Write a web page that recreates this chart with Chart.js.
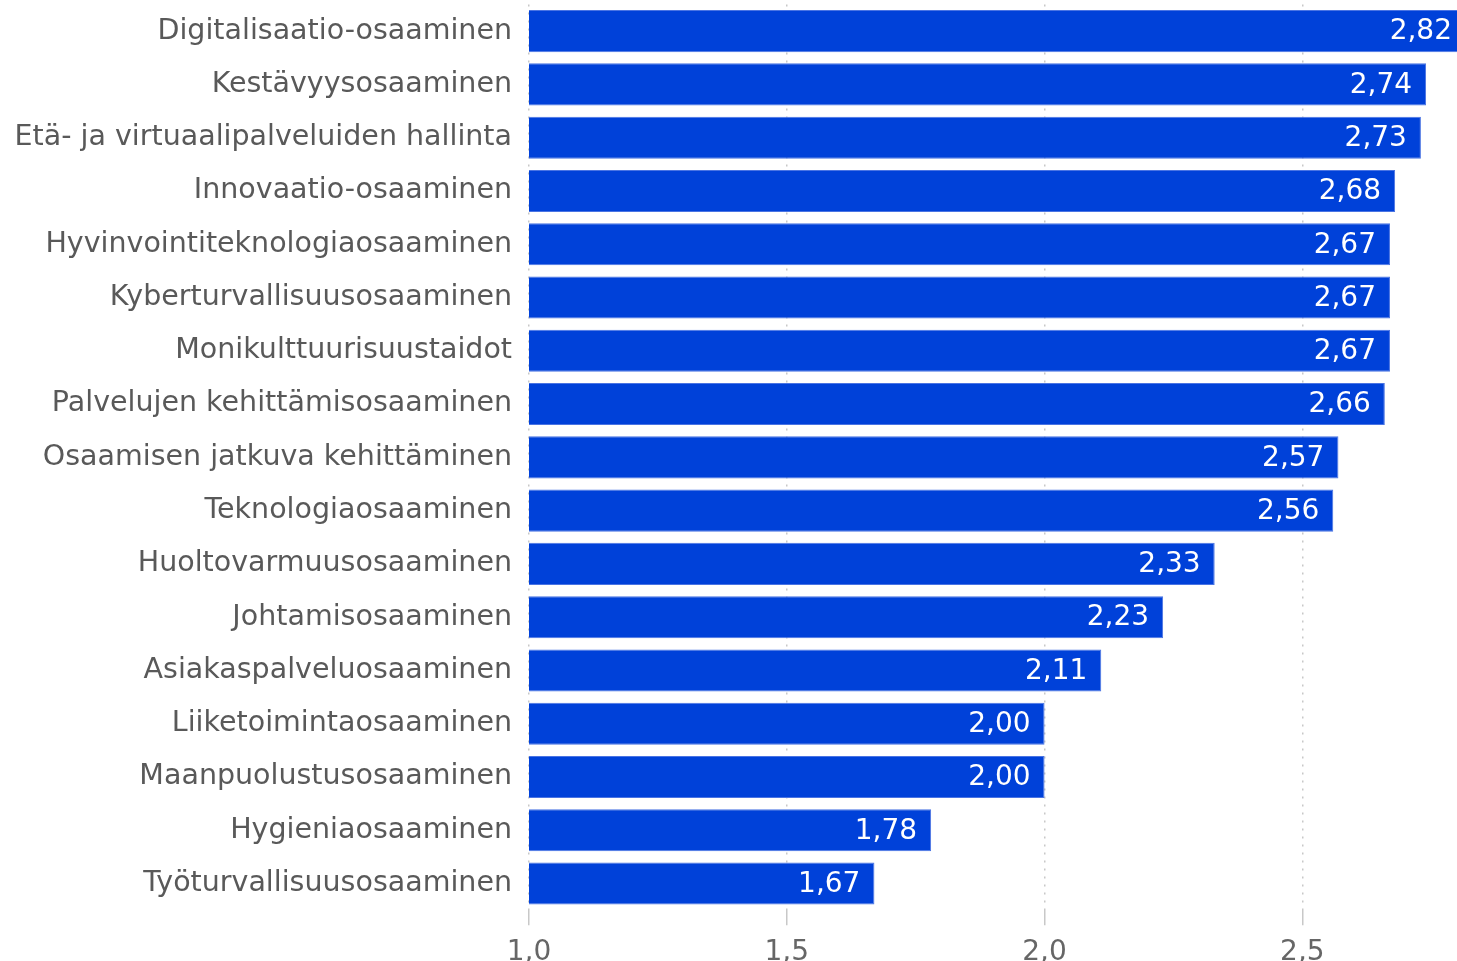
<!DOCTYPE html>
<html>
<head>
<meta charset="utf-8">
<script src="https://cdn.jsdelivr.net/npm/chart.js@4"></script>
<style>
  body { margin: 0; background: #fff; }
  #wrap { width: 1457px; height: 961px; position: relative; }
</style>
</head>
<body>
<div id="wrap"><canvas id="grafica"></canvas></div>
<script>
const labels = [
    'Digitalisaatio-osaaminen',
    'Kestävyysosaaminen',
    'Etä- ja virtuaalipalveluiden hallinta',
    'Innovaatio-osaaminen',
    'Hyvinvointiteknologiaosaaminen',
    'Kyberturvallisuusosaaminen',
    'Monikulttuurisuustaidot',
    'Palvelujen kehittämisosaaminen',
    'Osaamisen jatkuva kehittäminen',
    'Teknologiaosaaminen',
    'Huoltovarmuusosaaminen',
    'Johtamisosaaminen',
    'Asiakaspalveluosaaminen',
    'Liiketoimintaosaaminen',
    'Maanpuolustusosaaminen',
    'Hygieniaosaaminen',
    'Työturvallisuusosaaminen'
];

const arvot = [2.82, 2.74, 2.73, 2.68, 2.67, 2.67, 2.67, 2.66, 2.57, 2.56, 2.33, 2.23, 2.11, 2.00, 2.00, 1.78, 1.67];

const tickValues = [1.0, 1.5, 2.0, 2.5];

const fontti = "'DejaVu Sans', Verdana, sans-serif";

// arvot palkkien sisään, oikeaan reunaan
const arvoLabelit = {
    id: 'arvoLabelit',
    afterDatasetsDraw(chart) {
        const ctx = chart.ctx;
        const meta = chart.getDatasetMeta(0);
        ctx.save();
        ctx.fillStyle = '#ffffff';
        ctx.font = '28px ' + fontti;
        ctx.textAlign = 'right';
        ctx.textBaseline = 'middle';
        meta.data.forEach((bar, i) => {
            const x = Math.min(bar.x - 14, chart.width - 5);
            ctx.fillText(arvot[i].toFixed(2).replace('.', ','), x, bar.y + 1);
        });
        ctx.restore();
    }
};

const data = {
    labels: labels,
    datasets: [{
        data: arvot,
        backgroundColor: '#0041d9',
        borderColor: '#4a74e3',
        borderWidth: 1,
        borderSkipped: false,
        barPercentage: 0.79,
        categoryPercentage: 1
    }]
};

const config = {
    type: 'bar',
    data: data,
    options: {
        indexAxis: 'y',
        responsive: true,
        maintainAspectRatio: false,
        animation: false,
        layout: { padding: { top: 4.5, right: 0, bottom: -19, left: 15 } },
        plugins: {
            legend: { display: false },
            tooltip: { enabled: false }
        },
        scales: {
            x: {
                min: 1,
                max: 2.8,
                afterBuildTicks(axis) {
                    axis.ticks = tickValues.map(v => ({ value: v }));
                },
                grid: {
                    color: '#c8c8c8',
                    lineWidth: 1.5,
                    tickLength: 15,
                    drawTicks: true
                },
                border: { display: false, dash: [2, 6] },
                ticks: {
                    color: '#666666',
                    padding: 10.6,
                    font: { family: fontti, size: 28 },
                    callback: v => Number(v).toFixed(1).replace('.', ',')
                }
            },
            y: {
                afterFit(axis) {
                    axis.width = 514;
                    axis.paddingTop = 0;
                    axis.paddingBottom = 0;
                },
                grid: { display: false, drawTicks: false, tickLength: 0 },
                border: { display: false },
                ticks: {
                    color: '#595959',
                    padding: 17,
                    font: { family: fontti, size: 28.5 }
                }
            }
        }
    },
    plugins: [arvoLabelit]
};

new Chart(document.getElementById('grafica'), config);
</script>
</body>
</html>
